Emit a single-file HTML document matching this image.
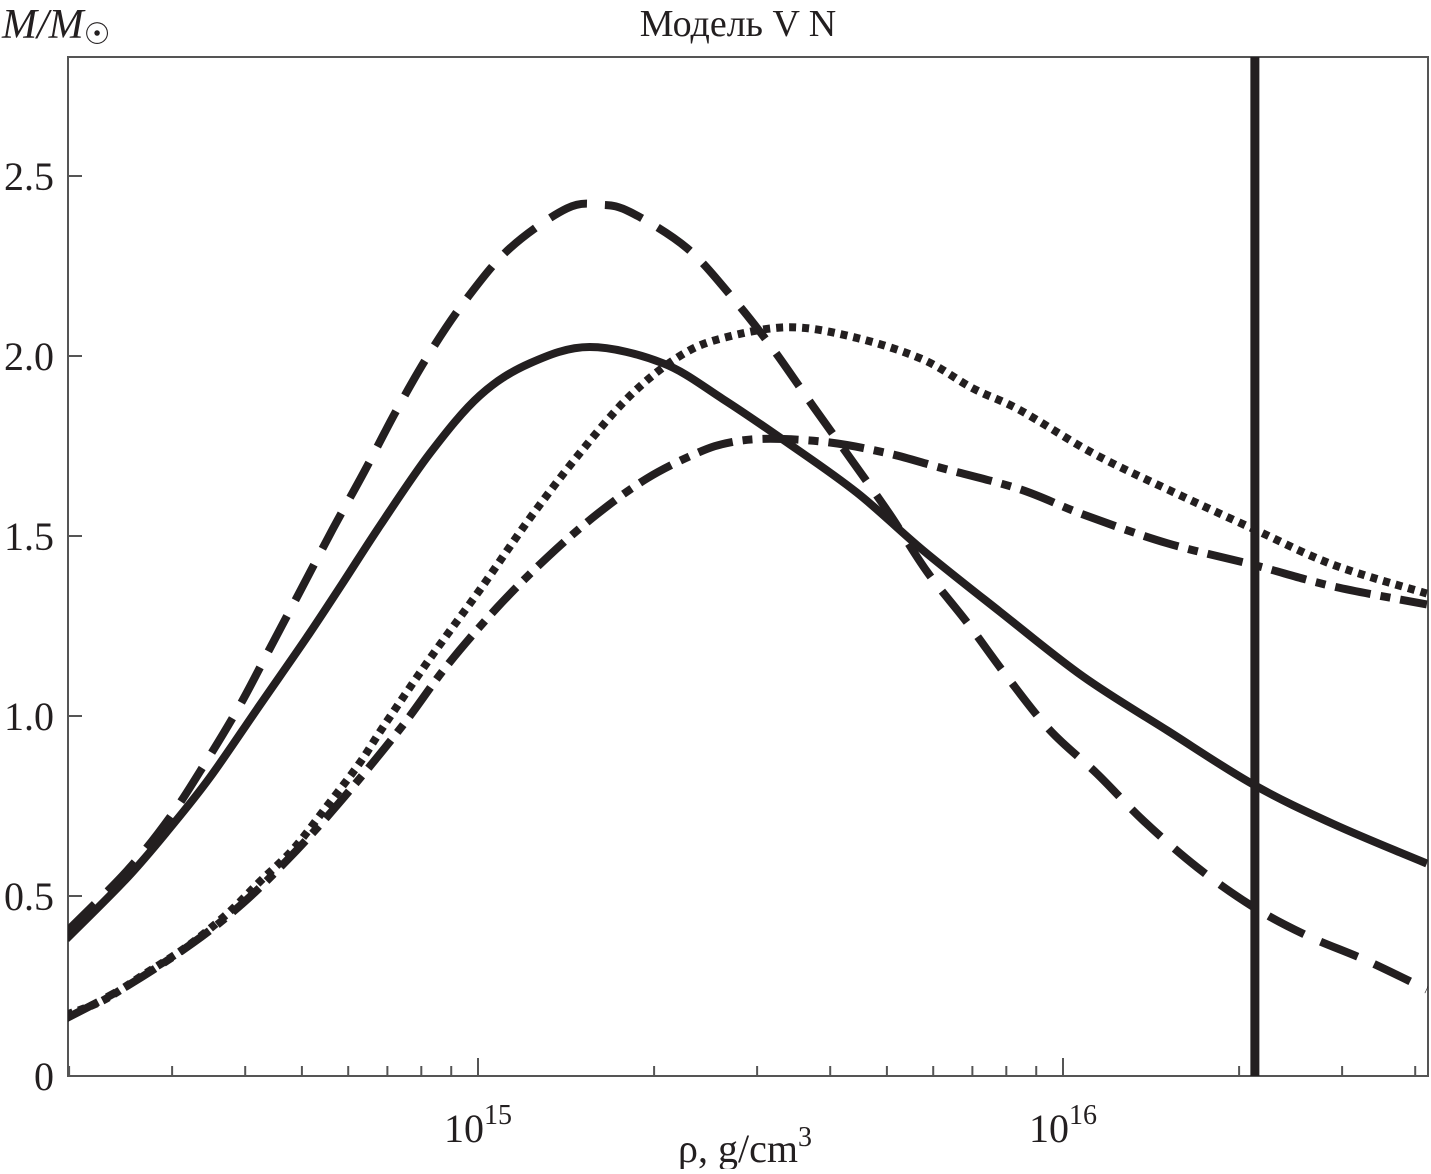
<!DOCTYPE html>
<html><head><meta charset="utf-8"><style>
body{margin:0;background:#fff}
svg text{font-family:"Liberation Serif","DejaVu Serif",serif;fill:#231f20}
</style></head><body>
<svg id="chart" width="1431" height="1169" viewBox="0 0 1431 1169" xmlns="http://www.w3.org/2000/svg">
<defs><clipPath id="plotclip"><rect x="68" y="57" width="1360" height="1019"/></clipPath></defs>
<text x="738" y="36" font-size="38" text-anchor="middle">Модель V N</text>
<text x="2" y="38" font-size="42" font-style="italic">M/M<tspan font-style="normal" font-size="30" dy="6">☉</tspan></text>
<text x="745" y="1162" font-size="40" text-anchor="middle">ρ, g/cm<tspan font-size="28" dy="-16">3</tspan></text>
<rect x="68" y="57" width="1360" height="1019" fill="none" stroke="#555" stroke-width="2"/>
<g id="ticks"></g>
<g id="series" clip-path="url(#plotclip)"></g>
</svg>
<script>
const solidLogRho = [14.296,14.400,14.474,14.542,14.627,14.708,14.769,14.833,14.918,15.003,15.089,15.191,15.316,15.419,15.528,15.648,15.761,15.892,16.034,16.178,16.325,16.462,16.622];
const solidM      = [0.38,0.55,0.69,0.83,1.03,1.22,1.37,1.53,1.73,1.89,1.98,2.025,1.98,1.88,1.76,1.62,1.46,1.29,1.11,0.96,0.81,0.70,0.59];
const dashedLogRho = [14.296,14.400,14.474,14.534,14.593,14.645,14.697,14.752,14.806,14.861,14.918,14.981,15.055,15.152,15.209,15.260,15.357,15.436,15.504,15.573,15.639,15.704,15.768,15.836,15.904,15.978,16.058,16.137,16.229,16.325,16.417,16.520,16.622];
const dashedM      = [0.40,0.57,0.72,0.87,1.03,1.19,1.35,1.52,1.68,1.85,2.01,2.16,2.30,2.41,2.42,2.40,2.30,2.16,2.02,1.86,1.71,1.56,1.40,1.26,1.11,0.96,0.84,0.71,0.58,0.47,0.39,0.32,0.24];
const dottedLogRho = [14.296,14.359,14.427,14.503,14.571,14.627,14.684,14.742,14.798,14.838,14.918,15.003,15.089,15.174,15.260,15.345,15.419,15.533,15.648,15.761,15.846,15.926,16.051,16.178,16.325,16.462,16.622];
const dottedM      = [0.17,0.21,0.28,0.36,0.45,0.54,0.63,0.75,0.87,0.97,1.16,1.35,1.55,1.73,1.89,2.00,2.05,2.08,2.05,1.99,1.91,1.85,1.73,1.63,1.52,1.42,1.34];
const dashDotLogRho = [14.296,14.400,14.513,14.598,14.674,14.742,14.815,14.879,14.947,15.032,15.118,15.203,15.289,15.374,15.431,15.500,15.600,15.700,15.790,15.926,16.034,16.178,16.325,16.462,16.622];
const dashDotM      = [0.16,0.25,0.37,0.48,0.60,0.72,0.86,0.99,1.14,1.30,1.44,1.56,1.66,1.73,1.76,1.77,1.76,1.73,1.69,1.63,1.56,1.48,1.42,1.36,1.31];
const yTicks = [0,0.5,1.0,1.5,2.0,2.5];
const yTickLabels = ["0","0.5","1.0","1.5","2.0","2.5"];
const xMajor = [15,16];
const vLineLogRho = 16.328;

const NS="http://www.w3.org/2000/svg";
const X0=68,X1=1428,Y0=1076,Y1=57;
const lmin=15-(478-68)/585, lmax=15+(1428-478)/585;
const ymin=0, ymax=(1076-57)/360;
const sx=l=>X0+(l-lmin)/(lmax-lmin)*(X1-X0);
const sy=v=>Y0-(v-ymin)/(ymax-ymin)*(Y0-Y1);
function mk(tag,attrs,parent){const e=document.createElementNS(NS,tag);for(const k in attrs)e.setAttribute(k,attrs[k]);parent.appendChild(e);return e;}
const ticks=document.getElementById('ticks'), series=document.getElementById('series');
yTicks.forEach((v,i)=>{
  const t=mk('line',{x1:X0,x2:X0+14,y1:sy(v),y2:sy(v),stroke:'#555','stroke-width':2},ticks);
  
  
  const tx=mk('text',{x:54,y:sy(v)+14,'font-size':40,'text-anchor':'end'},ticks);
  tx.textContent=yTickLabels[i];
  
  
});
for(let d=14;d<=16;d++){for(let m=1;m<10;m++){
  const l=d+Math.log10(m); if(l<lmin||l>lmax) continue;
  const major=m===1;
  const t=mk('line',{x1:sx(l),x2:sx(l),y1:Y0,y2:Y0-(major?18:10),stroke:'#555','stroke-width':2},ticks);
  
  
}}
xMajor.forEach(e=>{
  const tx=mk('text',{x:sx(e),y:1142,'font-size':40,'text-anchor':'middle'},ticks);
  tx.innerHTML='10<tspan font-size="28" dy="-18">'+e+'</tspan>';
  
  
});
function pathFor(xs,vals){
  const p=xs.map((l,i)=>[sx(l),sy(vals[i])]);
  let d='M'+p[0][0]+','+p[0][1];
  for(let i=0;i<p.length-1;i++){
    const a=p[Math.max(0,i-1)],b=p[i],c=p[i+1],e=p[Math.min(p.length-1,i+2)];
    d+=' C'+(b[0]+(c[0]-a[0])/6)+','+(b[1]+(c[1]-a[1])/6)+' '+(c[0]-(e[0]-b[0])/6)+','+(c[1]-(e[1]-b[1])/6)+' '+c[0]+','+c[1];
  }
  return d;
}
const defs=[[solidLogRho,solidM,'','solid-curve'],[dashedLogRho,dashedM,'40 18','dashed-curve'],[dottedLogRho,dottedM,'7 6','dotted-curve'],[dashDotLogRho,dashDotM,'36 10 10 10','dash-dot-curve']];
defs.forEach(([xs,v,da,name])=>{
  const p=mk('path',{d:pathFor(xs,v),fill:'none',stroke:'#231f20','stroke-width':8},series);
  if(da)p.setAttribute('stroke-dasharray',da);
  
  
});
const vl=mk('line',{x1:sx(vLineLogRho),x2:sx(vLineLogRho),y1:Y1,y2:Y0,stroke:'#231f20','stroke-width':9},series);


</script>
</body></html>
